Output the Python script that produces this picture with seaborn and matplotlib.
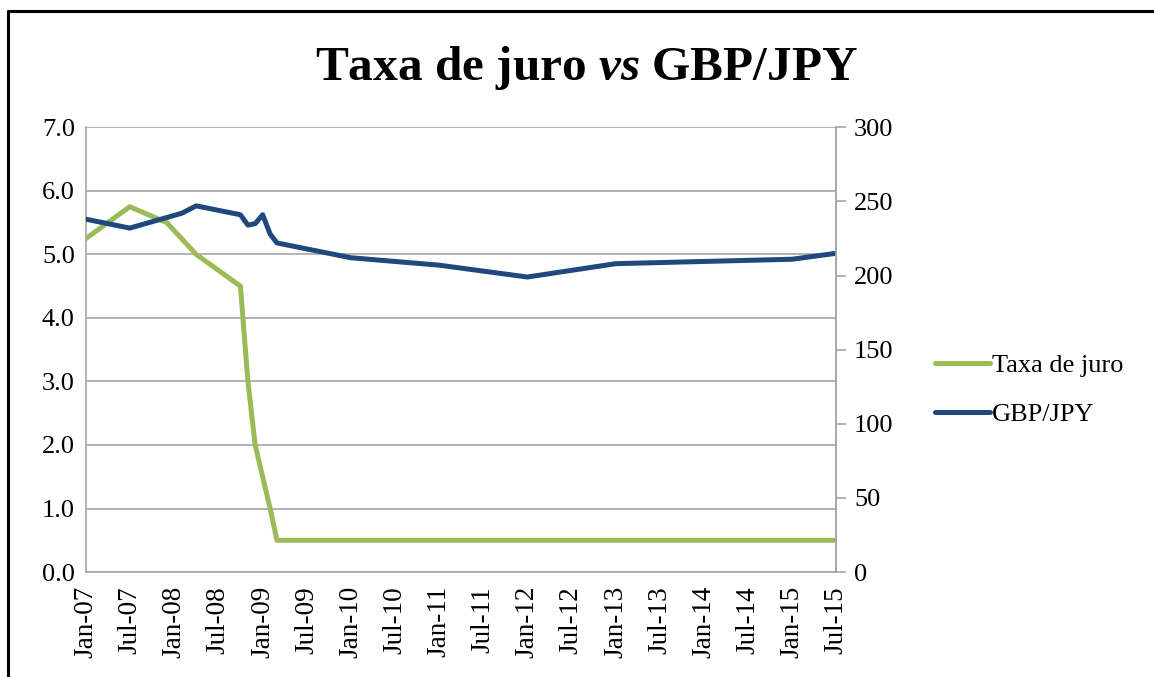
import pandas as pd
import matplotlib.pyplot as plt
import matplotlib.dates as mdates
from matplotlib.lines import Line2D
import seaborn as sns

# -----------------------------
# Estilo
# -----------------------------
sns.set_style("white")
plt.rcParams['font.family'] = ['Liberation Serif', 'DejaVu Serif']
plt.rcParams['mathtext.fontset'] = 'custom'
plt.rcParams['mathtext.rm'] = 'Liberation Serif:bold'
plt.rcParams['mathtext.it'] = 'Liberation Serif:italic:bold'
plt.rcParams['text.color'] = 'black'

verde = "#9BBB59"
azul = "#1F497D"
cinza = "#A6A6A6"

# -----------------------------
# Dados
# -----------------------------
taxa_datas = ["2007-01-01", "2007-07-01", "2007-12-01", "2008-04-01", "2008-10-01",
              "2008-11-01", "2008-12-01", "2009-01-01", "2009-02-01", "2009-03-01",
              "2015-07-01"]
taxa_valores = [5.25, 5.75, 5.5, 5.0, 4.5, 3.0, 2.0, 1.5, 1.0, 0.5, 0.5]

gbpjpy_datas = ["2007-01-01", "2007-07-01", "2008-02-01", "2008-04-01", "2008-10-01",
                "2008-11-01", "2008-12-01", "2009-01-01", "2009-02-01", "2009-03-01",
                "2009-07-01", "2010-01-01", "2011-01-01", "2012-01-01", "2013-01-01",
                "2015-01-01", "2015-07-01"]
gbpjpy_valores = [238, 232, 242, 247, 241, 234, 235, 241, 228, 222,
                  218, 212, 207, 199, 208, 211, 215]

df_taxa = pd.DataFrame({"Data": pd.to_datetime(taxa_datas), "Taxa": taxa_valores})
df_fx = pd.DataFrame({"Data": pd.to_datetime(gbpjpy_datas), "GBPJPY": gbpjpy_valores})

# -----------------------------
# Gráfico
# -----------------------------
fig = plt.figure(figsize=(11.54, 6.77), dpi=100)
ax = fig.add_axes([0.0745, 0.155, 0.6499, 0.657])
ax2 = ax.twinx()

sns.lineplot(data=df_taxa, x="Data", y="Taxa", ax=ax, color=verde, linewidth=3.6,
             label="Taxa de juro", legend=False)
sns.lineplot(data=df_fx, x="Data", y="GBPJPY", ax=ax2, color=azul, linewidth=3.6,
             label="GBP/JPY", legend=False)

ax.set_xlim(pd.Timestamp("2007-01-01"), pd.Timestamp("2015-07-01"))
ax.set_ylim(0, 7)
ax2.set_ylim(0, 300)
ax.set_yticks([i for i in range(8)])
ax.set_yticklabels([f"{i:.1f}" for i in range(8)])
ax2.set_yticks(range(0, 301, 50))

ax.xaxis.set_major_locator(mdates.MonthLocator(bymonth=[1, 7]))
ax.xaxis.set_major_formatter(mdates.DateFormatter("%b-%y"))
plt.setp(ax.get_xticklabels(), rotation=90)

ax.set_xlabel("")
ax.set_ylabel("")
ax2.set_ylabel("")

ax.grid(axis="y", color=cinza, linewidth=1.2)
ax.set_axisbelow(True)
for a in (ax, ax2):
    a.spines["top"].set_visible(False)
    for s in ("left", "right", "bottom"):
        a.spines[s].set_color(cinza)
        a.spines[s].set_linewidth(1.2)
ax2.spines["left"].set_visible(False)
ax2.spines["bottom"].set_visible(False)

ax.tick_params(axis="both", length=0, labelsize=19, pad=8, labelcolor="black")
ax.tick_params(axis="x", pad=10, labelsize=19.5)
ax2.tick_params(axis="y", length=7, width=1.2, color=cinza, labelsize=19, pad=6,
                labelcolor="black")

# Título com "vs" em itálico
fig.text(0.508, 0.90, r"Taxa de juro $\mathit{vs}$ GBP/JPY", ha="center", va="center",
         fontsize=35.5, fontweight="bold", color="black")

# Legenda à direita
handles = ax.get_lines()[:1] + ax2.get_lines()[:1]
fig.legend(handles, ["Taxa de juro", "GBP/JPY"], loc="center left",
           bbox_to_anchor=(0.79, 0.424), frameon=False, fontsize=19,
           handlelength=2.05, handletextpad=0.1, labelspacing=0.95,
           labelcolor="black")

# Moldura
fig.add_artist(Line2D([0.0065, 0.0065], [0, 0.984], transform=fig.transFigure,
                      color="black", linewidth=2.2))
fig.add_artist(Line2D([0.0065, 1.0], [0.984, 0.984], transform=fig.transFigure,
                      color="black", linewidth=2.2))

plt.savefig("out.png", dpi=100)
